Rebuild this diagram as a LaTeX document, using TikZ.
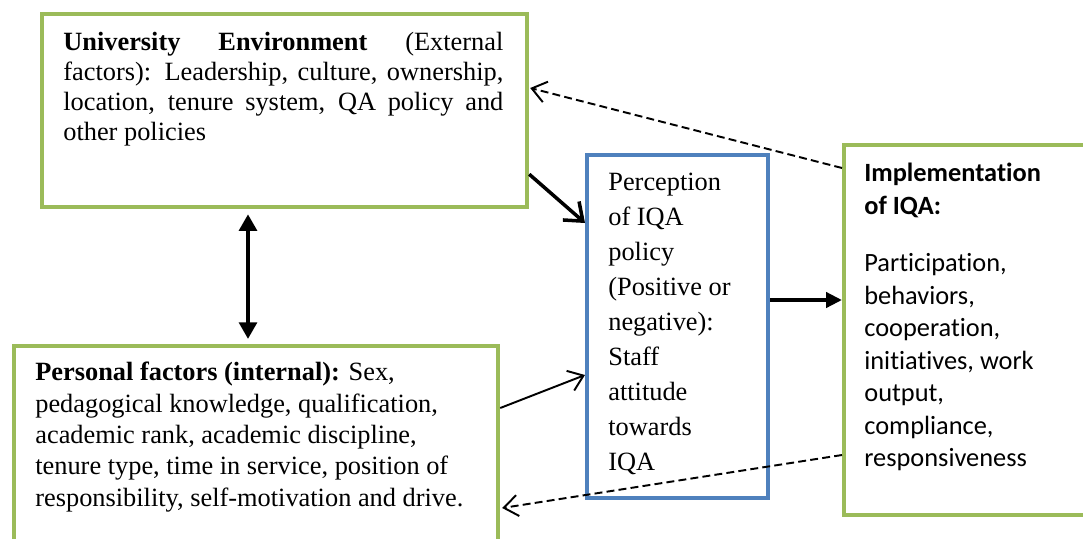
\documentclass[tikz,border=0pt]{standalone}
\usepackage{fontspec}
\setmainfont{Liberation Serif}
\newfontfamily\calibrifont[Ligatures={NoCommon,NoContextual}]{Carlito}
\usetikzlibrary{arrows.meta, positioning, calc}
\definecolor{framegreen}{HTML}{9BBB59}
\definecolor{frameblue}{HTML}{4F81BD}

\begin{document}
\begin{tikzpicture}[
    frame/.style={draw=framegreen, line width=2.4pt, anchor=north west, inner sep=0pt},
    body/.style={inner sep=0pt, font=\fontsize{15}{17}\selectfont, align=left},
    thinarr/.style={-{Straight Barb[length=8pt, width=12pt]}, line width=1.1pt},
    dasharr/.style={thinarr, dash pattern=on 4.5pt off 2.4pt},
    bendarr/.style={-{Straight Barb[length=9pt, width=14pt]}, line width=2pt},
    fillarr/.style={-{Triangle[length=9pt, width=8.5pt]}, line width=2.2pt},
    duoarr/.style={{Triangle[length=9.5pt, width=10pt]}-{Triangle[length=9.5pt, width=10pt]}, line width=2.4pt},
  ]

  \useasboundingbox (0,0) rectangle (21.66,-10.76);
  \clip (0,0) rectangle (21.66,-10.76);

  % Frames
  \node[frame, minimum width=9.7cm, minimum height=3.86cm] (uni) at (0.8,-0.24) {};
  \node[frame, minimum width=9.68cm, minimum height=4cm] (pers) at (0.24,-6.88) {};
  \node[frame, draw=frameblue, minimum width=3.62cm, minimum height=6.86cm] (perc) at (11.7,-3.06) {};
  \node[frame, minimum width=6cm, minimum height=7.4cm] (impl) at (16.84,-2.86) {};

  % Texts
  \node[body, align=justify, text width=8.8cm, anchor=north west, below right=0.4cm and 0.46cm of uni.north west] (unitxt)
    {\textbf{University Environment} (External\linebreak factors): Leadership, culture, ownership,\linebreak location, tenure system, QA policy and\linebreak other policies};

  \node[body, font=\fontsize{15}{17.8}\selectfont, anchor=north west, below right=0.36cm and 0.46cm of pers.north west] (perstxt)
    {\textbf{Personal factors (internal):} Sex,\\pedagogical knowledge, qualification,\\academic rank, academic discipline,\\tenure type, time in service, position of\\responsibility, self-motivation and drive.};

  \node[body, font=\fontsize{15}{19.9}\selectfont, anchor=north west, below right=0.4cm and 0.46cm of perc.north west] (perctxt)
    {Perception\\of IQA\\policy\\(Positive or\\negative):\\Staff\\attitude\\towards\\IQA};

  \node[body, font=\calibrifont\fontsize{15}{18.5}\selectfont, anchor=north west, below right=0.4cm and 0.44cm of impl.north west] (impltxt)
    {\textbf{Implementation}\\\textbf{of IQA:}\\[0.5cm]Participation,\\behaviors,\\cooperation,\\initiatives, work\\output,\\compliance,\\responsiveness};

  % Arrows
  \coordinate (ua) at ($(uni.south west)+(4.16,0)$);
  \draw[duoarr, shorten <=0.1cm, shorten >=0.1cm] (ua) -- (ua |- pers.north);
  \draw[bendarr] ($(uni.south east)+(0,0.7)$) -- ($(perc.north west)+(0,-1.4)$);
  \draw[thinarr] ($(pers.north east)+(0,-1.28)$) -- ($(perc.north west)+(0,-4.44)$);
  \coordinate (pe) at ($(perc.north east)+(0,-2.94)$);
  \draw[fillarr] (pe) -- (pe -| impl.west);
  \draw[dasharr] ($(impl.north west)+(0,-0.5)$) -- ($(uni.north east)+(0.02,-1.52)$);
  \draw[dasharr] ($(impl.north west)+(0,-6.24)$) -- ($(pers.north east)+(0.04,-3.28)$);

\end{tikzpicture}
\end{document}
